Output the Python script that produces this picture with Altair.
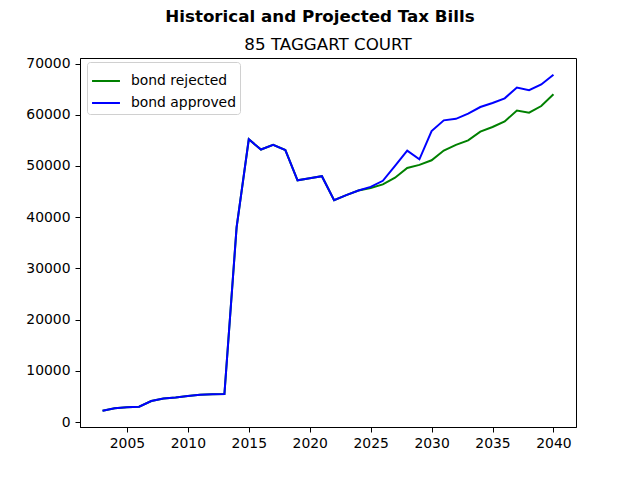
import altair as alt
import pandas as pd

years = list(range(2003, 2041))
history = [2200, 2700, 2900, 3000, 4100, 4600, 4800, 5100, 5300, 5400, 5450,
           38000, 55200, 53200, 54100, 53100, 47200, 47600, 48000, 43300, 44300, 45200]
rejected_proj = [45700, 46400, 47700, 49600, 50200, 51100, 53000, 54100, 55000,
                 56700, 57600, 58700, 60800, 60400, 61700, 64000]
approved_proj = [45900, 47100, 50000, 53000, 51300, 56800, 58900, 59200, 60200,
                 61500, 62300, 63200, 65300, 64800, 65900, 67800]
series_names = ["bond rejected", "bond approved"]
series_colors = ["green", "blue"]
main_title = "Historical and Projected Tax Bills"
sub_title = "85 TAGGART COURT"

rows = []
for name, proj in zip(series_names, [rejected_proj, approved_proj]):
    vals = history + proj
    for y, v in zip(years, vals):
        rows.append({"year": y, "tax": v, "series": name})
df = pd.DataFrame(rows)

FONT = "DejaVu Sans"

color = alt.Color(
    "series:N",
    scale=alt.Scale(domain=series_names, range=series_colors),
    sort=series_names,
    legend=alt.Legend(
        title=None,
        orient="none",
        legendX=7,
        legendY=4,
        symbolType="stroke",
        symbolSize=780,
        symbolStrokeWidth=2,
        labelFontSize=13.9,
        labelFont=FONT,
        labelColor="black",
        labelOffset=10,
        padding=4,
        rowPadding=0,
        strokeColor="#d0d0d0",
        fillColor="white",
        cornerRadius=3,
    ),
)

x = alt.X(
    "year:Q",
    scale=alt.Scale(domain=[2001.15, 2041.85], nice=False, zero=False),
    axis=alt.Axis(values=[2005, 2010, 2015, 2020, 2025, 2030, 2035, 2040], format="d",
                  title=None, grid=False, tickSize=5, labelPadding=4),
)
y = alt.Y(
    "tax:Q",
    scale=alt.Scale(domain=[-975, 71075], nice=False, zero=False),
    axis=alt.Axis(values=[0, 10000, 20000, 30000, 40000, 50000, 60000, 70000], format="d",
                  title=None, grid=False, tickSize=5, labelPadding=5),
)

base = alt.Chart(df)
green = base.transform_filter(alt.datum.series == series_names[0]).mark_line(strokeWidth=2, clip=True).encode(x=x, y=y, color=color)
blue = base.transform_filter(alt.datum.series == series_names[1]).mark_line(strokeWidth=2, clip=True).encode(x=x, y=y, color=color)

title_text = alt.Chart(pd.DataFrame({"t": [main_title]})).mark_text(
    font=FONT, fontSize=16.7, fontWeight="bold", color="black", baseline="middle", align="center"
).encode(x=alt.value(240), y=alt.value(-41), text="t:N")

subtitle_text = alt.Chart(pd.DataFrame({"t": [sub_title]})).mark_text(
    font=FONT, fontSize=16.7, fontWeight="normal", color="black", baseline="alphabetic", align="center"
).encode(x=alt.value(248), y=alt.value(-8), text="t:N")

chart = alt.layer(green, blue, title_text, subtitle_text).properties(
    width=496,
    height=369,
    padding={"left": 80, "top": 58, "right": 64, "bottom": 53},
    autosize=alt.AutoSizeParams(type="none"),
    background="white",
).configure_view(
    stroke="black", strokeWidth=1
).configure_axis(
    labelFont=FONT, labelFontSize=13.9, labelColor="black",
    domainColor="black", tickColor="black", domainWidth=1, tickWidth=1,
)

chart.save("out.html", embed_options={"renderer": "svg", "actions": False})
